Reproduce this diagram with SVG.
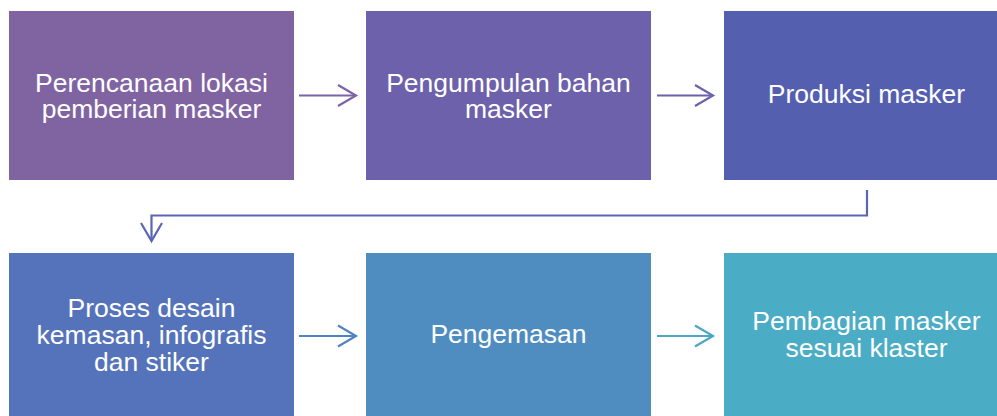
<svg xmlns="http://www.w3.org/2000/svg" width="997" height="416" viewBox="0 0 997 416">
<style>
text{font-family:"Liberation Sans",Arial,sans-serif;font-size:26.5px;fill:#fff;text-anchor:middle}
.ar{fill:none;stroke-width:2.2;stroke-linecap:butt;stroke-linejoin:miter}
</style>
<rect width="997" height="416" fill="#fff"/>
<g id="n1"><rect x="9" y="11" width="285" height="169" fill="#8064A2"/><text x="151.5" y="91.5">Perencanaan lokasi</text><text x="151.5" y="117.5">pemberian masker</text></g>
<g id="n2"><rect x="366" y="11" width="285" height="169" fill="#6C61AA"/><text x="508.5" y="91.5">Pengumpulan bahan</text><text x="508.5" y="117.5">masker</text></g>
<g id="n3"><rect x="724" y="11" width="285" height="169" fill="#555FB0"/><text x="866.5" y="102.5">Produksi masker</text></g>
<g id="n4"><rect x="9" y="253" width="285" height="169" fill="#5573BA"/><text x="151.5" y="317">Proses desain</text><text x="151.5" y="344">kemasan, infografis</text><text x="151.5" y="371">dan stiker</text></g>
<g id="n5"><rect x="366" y="253" width="285" height="169" fill="#4F8DC1"/><text x="508.5" y="342.5">Pengemasan</text></g>
<g id="n6"><rect x="724" y="253" width="285" height="169" fill="#4AACC5"/><text x="866.5" y="329.5">Pembagian masker</text><text x="866.5" y="356.5">sesuai klaster</text></g>
<g id="connectors">
<g class="ar" stroke="#7C62A6"><path d="M299 95.5H356"/><path d="M338 85L356 95.5L338 106"/></g>
<g class="ar" stroke="#6A62AC"><path d="M657 95.5H713"/><path d="M695 85L713 95.5L695 106"/></g>
<g class="ar" stroke="#5A66B4"><path d="M867 190V215.5H151.5V241"/><path d="M141 223L151.5 241L162 223"/></g>
<g class="ar" stroke="#5183C0"><path d="M299 336H356"/><path d="M338 325.5L356 336L338 346.5"/></g>
<g class="ar" stroke="#4AA8C6"><path d="M657 336H713"/><path d="M695 325.5L713 336L695 346.5"/></g>
</g>
</svg>
